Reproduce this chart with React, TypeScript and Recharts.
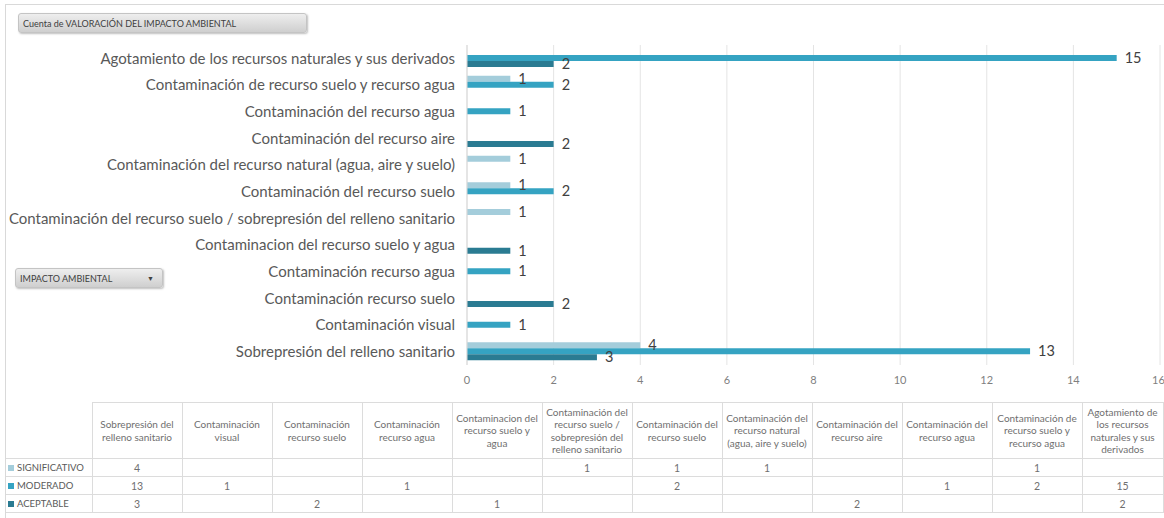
import { BarChart, Bar, XAxis, YAxis, CartesianGrid, LabelList } from 'recharts';

// pivot categories in table order (Excel draws the first one at the bottom)
const categories = [
  'Sobrepresión del relleno sanitario',
  'Contaminación visual',
  'Contaminación recurso suelo',
  'Contaminación recurso agua',
  'Contaminacion del recurso suelo y agua',
  'Contaminación del recurso suelo / sobrepresión del relleno sanitario',
  'Contaminación del recurso suelo',
  'Contaminación del recurso natural (agua, aire y suelo)',
  'Contaminación del recurso aire',
  'Contaminación del recurso agua',
  'Contaminación de recurso suelo y recurso agua',
  'Agotamiento de los recursos naturales y sus derivados',
];

const significativo = [4, null, null, null, null, 1, 1, 1, null, null, 1, null];
const moderado = [13, 1, null, 1, null, null, 2, null, null, 1, 2, 15];
const aceptable = [3, null, 2, null, 1, null, null, null, 2, null, null, 2];

const xTicks = [0, 2, 4, 6, 8, 10, 12, 14, 16];

const series = [
  { key: 'significativo', label: 'SIGNIFICATIVO', color: '#a4cddb', values: significativo },
  { key: 'moderado', label: 'MODERADO', color: '#35a3c2', values: moderado },
  { key: 'aceptable', label: 'ACEPTABLE', color: '#2a7b92', values: aceptable },
];

const chartData = categories
  .map((name, i) => ({
    name,
    significativo: significativo[i],
    moderado: moderado[i],
    aceptable: aceptable[i],
  }))
  .reverse();

const FONT = 'Lato, "Open Sans", sans-serif';

const fieldButton: React.CSSProperties = {
  position: 'absolute',
  boxSizing: 'border-box',
  background: 'linear-gradient(#eeeeee, #cfcfcf)',
  border: '1px solid #c4c4c4',
  borderRadius: 3,
  boxShadow: '1px 1px 2px rgba(0,0,0,0.25)',
  fontSize: 9,
  color: '#404040',
  paddingLeft: 4,
  display: 'flex',
  alignItems: 'center',
  whiteSpace: 'nowrap',
};

const cell: React.CSSProperties = {
  border: '1px solid #dcdcdc',
  padding: 0,
  textAlign: 'center',
  verticalAlign: 'middle',
  fontSize: 10.5,
  color: '#6f6f6f',
  height: 17,
};

export default function App() {
  return (
    <div
      style={{
        position: 'absolute',
        left: 0,
        top: 0,
        width: 1164,
        height: 518,
        overflow: 'hidden',
        background: '#fff',
        fontFamily: FONT,
      }}
    >
      <div
        style={{
          position: 'absolute',
          left: 5,
          top: 4,
          width: 1200,
          height: 600,
          borderLeft: '1px solid #d9d9d9',
          borderTop: '1px solid #d9d9d9',
        }}
      />

      <BarChart
        width={1164}
        height={395}
        data={chartData}
        layout="vertical"
        margin={{ top: 45, right: 4, bottom: 0, left: 0 }}
        barSize={6}
        barGap={0}
        style={{ position: 'absolute', left: 0, top: 0 }}
      >
        <CartesianGrid horizontal={false} stroke="#e4e4e4" />
        <XAxis
          type="number"
          domain={[0, 16]}
          ticks={xTicks}
          height={30}
          axisLine={false}
          tickLine={false}
          tickSize={0}
          tickMargin={11}
          tick={{ fontSize: 11, fill: '#7f7f7f', fontFamily: FONT }}
        />
        <YAxis
          type="category"
          dataKey="name"
          width={467}
          interval={0}
          axisLine={{ stroke: '#d9d9d9' }}
          tickLine={false}
          tickSize={0}
          tickMargin={12}
          tick={{ fontSize: 15, fill: '#595959', fontFamily: FONT }}
        />
        {series.map((s) => (
          <Bar key={s.key} dataKey={s.key} name={s.label} fill={s.color} isAnimationActive={false}>
            <LabelList
              dataKey={s.key}
              position="right"
              offset={8}
              fill="#404040"
              fontSize={14.5}
              fontFamily={FONT}
              formatter={(v: any) => (v ? v : '')}
            />
          </Bar>
        ))}
      </BarChart>

      <div style={{ ...fieldButton, left: 18, top: 13, width: 289, height: 20 }}>
        Cuenta de VALORACIÓN DEL IMPACTO AMBIENTAL
      </div>
      <div style={{ ...fieldButton, left: 15, top: 268, width: 148, height: 20, justifyContent: 'space-between', paddingRight: 8 }}>
        <span>IMPACTO AMBIENTAL</span>
        <span style={{ fontSize: 7 }}>▼</span>
      </div>

      <table
        style={{
          position: 'absolute',
          left: 6,
          top: 402,
          borderCollapse: 'collapse',
          tableLayout: 'fixed',
          width: 1157,
          fontFamily: FONT,
        }}
      >
        <colgroup>
          <col style={{ width: 86 }} />
          {categories.map((c, i) => (
            <col key={c} style={{ width: i === categories.length - 1 ? 81 : 90 }} />
          ))}
        </colgroup>
        <tbody>
          <tr>
            <td style={{ ...cell, border: 'none', borderBottom: '1px solid #dcdcdc' }} />
            {categories.map((c) => (
              <td key={c} style={{ ...cell, height: 55 }}>
                <div
                  style={{
                    height: 55,
                    overflow: 'hidden',
                    display: 'flex',
                    alignItems: 'center',
                    justifyContent: 'center',
                    fontSize: 10,
                    lineHeight: '12.5px',
                    padding: '0 1px',
                  }}
                >
                  {c}
                </div>
              </td>
            ))}
          </tr>
          {series.map((s) => (
            <tr key={s.key}>
              <td style={{ ...cell, borderLeft: 'none', textAlign: 'left', fontSize: 9.5, color: '#595959', whiteSpace: 'nowrap', paddingLeft: 2 }}>
                <span
                  style={{
                    display: 'inline-block',
                    width: 6,
                    height: 6,
                    background: s.color,
                    marginRight: 3,
                    verticalAlign: 'middle',
                    position: 'relative',
                    top: -1,
                  }}
                />
                {s.label}
              </td>
              {s.values.map((v, i) => (
                <td key={i} style={cell}>
                  {v ?? ''}
                </td>
              ))}
            </tr>
          ))}
        </tbody>
      </table>
    </div>
  );
}
